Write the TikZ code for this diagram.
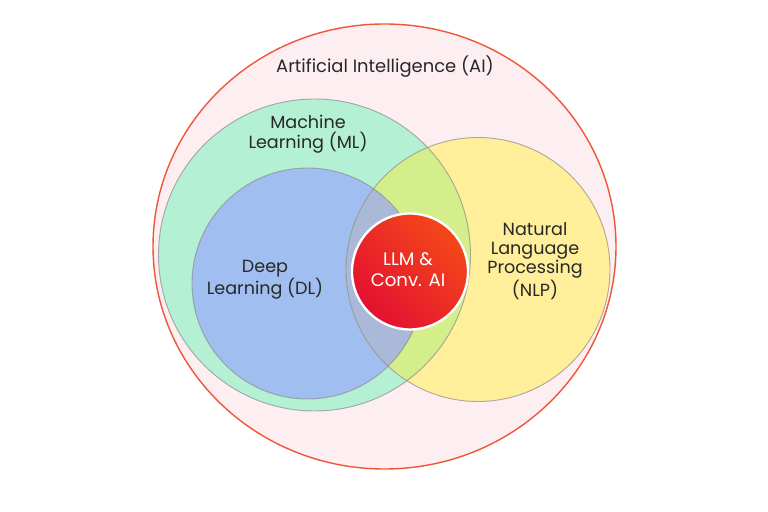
\documentclass[tikz,border=0pt]{standalone}
\usepackage{fontspec}
\setmainfont{Poppins}
\usepackage{tikz}

\definecolor{aipink}{RGB}{253,238,241}
\definecolor{aired}{RGB}{240,86,56}
\definecolor{mlgreen}{RGB}{180,240,212}
\definecolor{dlblue}{RGB}{160,190,240}
\definecolor{nlpyellow}{RGB}{255,238,154}
\definecolor{mlnlp}{RGB}{212,238,140}
\definecolor{dlnlp}{RGB}{170,185,215}
\definecolor{llmred}{RGB}{228,16,50}
\definecolor{llmorange}{RGB}{243,72,24}
\definecolor{labelgray}{RGB}{40,40,40}

\tikzset{
  rim/.style={draw=black!45, draw opacity=0.7, line width=0.8pt},
  setlabel/.style={text=labelgray, align=center, font=\fontsize{15}{16.8}\selectfont}
}

\begin{document}
\begin{tikzpicture}[x=0.03cm, y=0.03cm]

  \fill[white] (0,0) rectangle (768,512);

  \coordinate (ai) at (384.5, 265.5);
  \coordinate (ml) at (314.5, 257.0);
  \coordinate (dl) at (307.5, 228.5);
  \coordinate (nlp) at (478.0, 242.5);
  \coordinate (llm) at (410.0, 240.5);

  % outer set
  \fill[aipink] (ai) ellipse [x radius=231.5, y radius=222.5];
  \draw[aired, line width=1.2pt] (ai) ellipse [x radius=231.5, y radius=222.5];

  % fills
  \fill[mlgreen] (ml) circle [radius=156];
  \fill[dlblue] (dl) circle [radius=115.5];
  \fill[nlpyellow] (nlp) circle [radius=132];

  % overlaps with NLP
  \begin{scope}
    \clip (nlp) circle [radius=132];
    \fill[mlnlp] (ml) circle [radius=156];
    \fill[dlnlp] (dl) circle [radius=115.5];
  \end{scope}

  % rims
  \draw[rim] (ml) circle [radius=156];
  \draw[rim] (dl) circle [radius=115.5];
  \draw[rim] (nlp) circle [radius=132];

  % core
  \shade[top color=llmorange, bottom color=llmred, shading angle=-45]
    (llm) circle [radius=58];
  \draw[white, line width=2pt] (llm) circle [radius=58];

  \node[setlabel, font=\fontsize{15.3}{18}\selectfont] (ailabel) at (385, 445)
    {Artificial Intelligence (AI)};
  \node[setlabel] (mllabel) at (308, 378) {Machine\\Learning (ML)};
  \node[setlabel] (dllabel) at (265, 232) {Deep\\Learning (DL)};
  \node[setlabel, font=\fontsize{15}{16.4}\selectfont] (nlplabel) at (535, 251)
    {Natural\\Language\\Processing\\(NLP)};
  \node[setlabel, text=white, font=\fontsize{15.5}{17.8}\selectfont] (llmlabel)
    at (408, 242.5) {LLM \&\\Conv. AI};

\end{tikzpicture}
\end{document}
